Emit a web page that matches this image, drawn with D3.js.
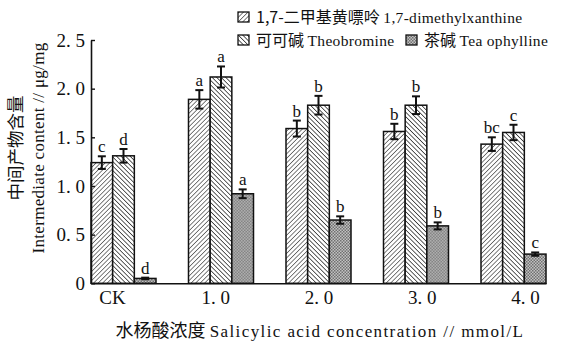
<!DOCTYPE html>
<html>
<head>
<meta charset="utf-8">
<script src="https://cdn.jsdelivr.net/npm/d3@7"></script>
<style>
  html, body { margin: 0; padding: 0; background: #fff; }
  svg { display: block; }
</style>
</head>
<body>
<svg id="chart" width="567" height="342"></svg>
<script>
// Salicylic acid concentrations (x groups)
const categories = ["CK", "1.0", "2.0", "3.0", "4.0"];
const tickLabels = ["CK", "1. 0", "2. 0", "3. 0", "4. 0"];

// Series: intermediate content, µg/mg
const seriesKeys = ["dmx", "theo", "tea"];
const dimethylxanthine = [1.24, 1.89, 1.59, 1.56, 1.43];
const dimethylxanthineErr = [0.065, 0.095, 0.082, 0.079, 0.070];
const dimethylxanthineSig = ["c", "a", "b", "b", "bc"];

const theobromine = [1.31, 2.12, 1.83, 1.83, 1.55];
const theobromineErr = [0.070, 0.108, 0.096, 0.091, 0.079];
const theobromineSig = ["d", "a", "b", "b", "c"];

const teaophylline = [0.05, 0.92, 0.65, 0.59, 0.30];
const teaophyllineErr = [0.008, 0.045, 0.038, 0.036, 0.017];
const teaophyllineSig = ["d", "a", "b", "b", "c"];

const yTicks = [0, 0.5, 1.0, 1.5, 2.0, 2.5];

const seriesValues = [dimethylxanthine, theobromine, teaophylline];
const seriesErrors = [dimethylxanthineErr, theobromineErr, teaophyllineErr];
const seriesSig = [dimethylxanthineSig, theobromineSig, teaophyllineSig];

const LAT = '"Liberation Serif", "Times New Roman", serif';
const CJK = '"Noto Sans CJK SC", sans-serif';

const svg = d3.select("#chart");

// ---- hatch patterns ----
const defs = svg.append("defs");
const p1 = defs.append("pattern").attr("id", "pat-dmx")
  .attr("patternUnits", "userSpaceOnUse").attr("width", 3.2).attr("height", 3.2)
  .attr("patternTransform", "rotate(45)");
p1.append("rect").attr("width", 3.2).attr("height", 3.2).attr("fill", "#fff");
p1.append("line").attr("x1", 0).attr("y1", 0).attr("x2", 0).attr("y2", 3.2)
  .attr("stroke", "#3a3a3a").attr("stroke-width", 1.3);

const p2 = defs.append("pattern").attr("id", "pat-theo")
  .attr("patternUnits", "userSpaceOnUse").attr("width", 3.2).attr("height", 3.2)
  .attr("patternTransform", "rotate(-45)");
p2.append("rect").attr("width", 3.2).attr("height", 3.2).attr("fill", "#fff");
p2.append("line").attr("x1", 0).attr("y1", 0).attr("x2", 0).attr("y2", 3.2)
  .attr("stroke", "#2a2a2a").attr("stroke-width", 1.5);

const p3 = defs.append("pattern").attr("id", "pat-tea")
  .attr("patternUnits", "userSpaceOnUse").attr("width", 3).attr("height", 3);
p3.append("rect").attr("width", 3).attr("height", 3).attr("fill", "#c2c2c2");
p3.append("rect").attr("width", 1.5).attr("height", 1.5).attr("fill", "#707070");
p3.append("rect").attr("x", 1.5).attr("y", 1.5).attr("width", 1.5).attr("height", 1.5).attr("fill", "#707070");

const fills = { dmx: "url(#pat-dmx)", theo: "url(#pat-theo)", tea: "url(#pat-tea)" };

// ---- scales ----
const y = d3.scaleLinear().domain([0, 2.5]).range([283.3, 40]);
const x0 = d3.scaleBand().domain(categories).range([91, 546])
  .paddingInner(1 / 3).paddingOuter(0);
const x1 = d3.scaleBand().domain(seriesKeys).range([0, x0.bandwidth()]).padding(0);
const xLabel = d3.scalePoint().domain(categories).range([112, 525]);

// ---- bars ----
const groups = svg.append("g").selectAll("g").data(categories).join("g")
  .attr("transform", d => `translate(${x0(d)},0)`);

const rows = categories.map((c, i) => seriesKeys.map((k, s) => ({
  cat: c, key: k, v: seriesValues[s][i], e: seriesErrors[s][i], sig: seriesSig[s][i]
})));

groups.selectAll("rect").data((d, i) => rows[i]).join("rect")
  .attr("x", d => x1(d.key))
  .attr("y", d => y(d.v))
  .attr("width", x1.bandwidth())
  .attr("height", d => y(0) - y(d.v))
  .attr("fill", d => fills[d.key])
  .attr("stroke", "#111").attr("stroke-width", 1.5);

// error bars
const eb = groups.selectAll("g.err").data((d, i) => rows[i]).join("g").attr("class", "err")
  .attr("stroke", "#111").attr("stroke-width", 2);
const cx = d => x1(d.key) + x1.bandwidth() / 2;
eb.append("line").attr("x1", cx).attr("x2", cx)
  .attr("y1", d => y(d.v + d.e)).attr("y2", d => y(d.v - d.e));
eb.append("line").attr("x1", d => cx(d) - 4).attr("x2", d => cx(d) + 4)
  .attr("y1", d => y(d.v + d.e)).attr("y2", d => y(d.v + d.e));
eb.append("line").attr("x1", d => cx(d) - 4).attr("x2", d => cx(d) + 4)
  .attr("y1", d => y(d.v - d.e)).attr("y2", d => y(d.v - d.e));

// significance letters
groups.selectAll("text.sig").data((d, i) => rows[i]).join("text").attr("class", "sig")
  .attr("x", cx)
  .attr("y", d => y(d.v + d.e) - 4)
  .attr("text-anchor", "middle")
  .style("font-family", LAT).style("font-size", "17px")
  .attr("fill", "#111")
  .text(d => d.sig);

// ---- axes ----
const yAxis = d3.axisLeft(y).tickValues(yTicks)
  .tickSizeInner(-4).tickSizeOuter(0).tickPadding(6)
  .tickFormat(d => d === 0 ? "0" : d.toFixed(1).replace(".", ". "));
const gy = svg.append("g").attr("transform", "translate(91,0)").call(yAxis);
gy.select(".domain").attr("stroke", "#111").attr("stroke-width", 1.6);
gy.selectAll(".tick line").attr("stroke", "#111").attr("stroke-width", 1.4);
gy.selectAll(".tick text").style("font-family", LAT).style("font-size", "19px").attr("fill", "#111");

const gx = svg.append("g").attr("transform", `translate(0,${y(0)})`)
  .call(d3.axisBottom(x0).tickSize(0).tickFormat(() => ""));
gx.select(".domain").attr("stroke", "#111").attr("stroke-width", 1.6);

const xl = svg.append("g").attr("transform", `translate(0,${y(0)})`)
  .call(d3.axisBottom(xLabel).tickSize(0).tickPadding(7)
    .tickFormat((d, i) => tickLabels[i]));
xl.select(".domain").remove();
xl.selectAll(".tick text").style("font-family", LAT).style("font-size", "19px").attr("fill", "#111");

// ---- axis titles ----
const xt = svg.append("text").attr("x", 320).attr("y", 337).attr("text-anchor", "middle")
  .attr("fill", "#111");
xt.append("tspan").style("font-family", CJK).style("font-size", "18px").text("水杨酸浓度 ");
xt.append("tspan").style("font-family", LAT).style("font-size", "17px").attr("letter-spacing", 1.4)
  .text("Salicylic acid concentration // mmol/L");

const yt = svg.append("g").attr("transform", "translate(0,148) rotate(-90)");
yt.append("text").attr("x", 0).attr("y", 22)
  .attr("text-anchor", "middle").style("font-family", CJK).style("font-size", "17.5px").attr("fill", "#111")
  .text("中间产物含量");
yt.append("text").attr("x", 0).attr("y", 44)
  .attr("text-anchor", "middle").style("font-family", LAT).style("font-size", "17px").attr("letter-spacing", 0.3)
  .attr("fill", "#111")
  .text("Intermediate content // μg/mg");

// ---- legend ----
const legendItems = [
  { key: "dmx", x: 238, y: 17, cn: "1,7-二甲基黄嘌呤 ", en: "1,7-dimethylxanthine" },
  { key: "theo", x: 238, y: 40, cn: "可可碱 ", en: "Theobromine" },
  { key: "tea", x: 406, y: 40, cn: "茶碱 ", en: "Tea ophylline" }
];
const lg = svg.append("g").selectAll("g").data(legendItems).join("g")
  .attr("transform", d => `translate(${d.x},${d.y})`);
lg.append("rect").attr("x", 0).attr("y", -5).attr("width", 11).attr("height", 10)
  .attr("fill", d => fills[d.key]).attr("stroke", "#111").attr("stroke-width", 1.3);
const lt = lg.append("text").attr("x", 18).attr("y", 5.5).attr("fill", "#111");
lt.append("tspan").style("font-family", CJK).style("font-size", "16px").text(d => d.cn);
lt.append("tspan").style("font-family", LAT).style("font-size", "15.5px").attr("letter-spacing", 0.3)
  .text(d => d.en);
</script>
</body>
</html>
